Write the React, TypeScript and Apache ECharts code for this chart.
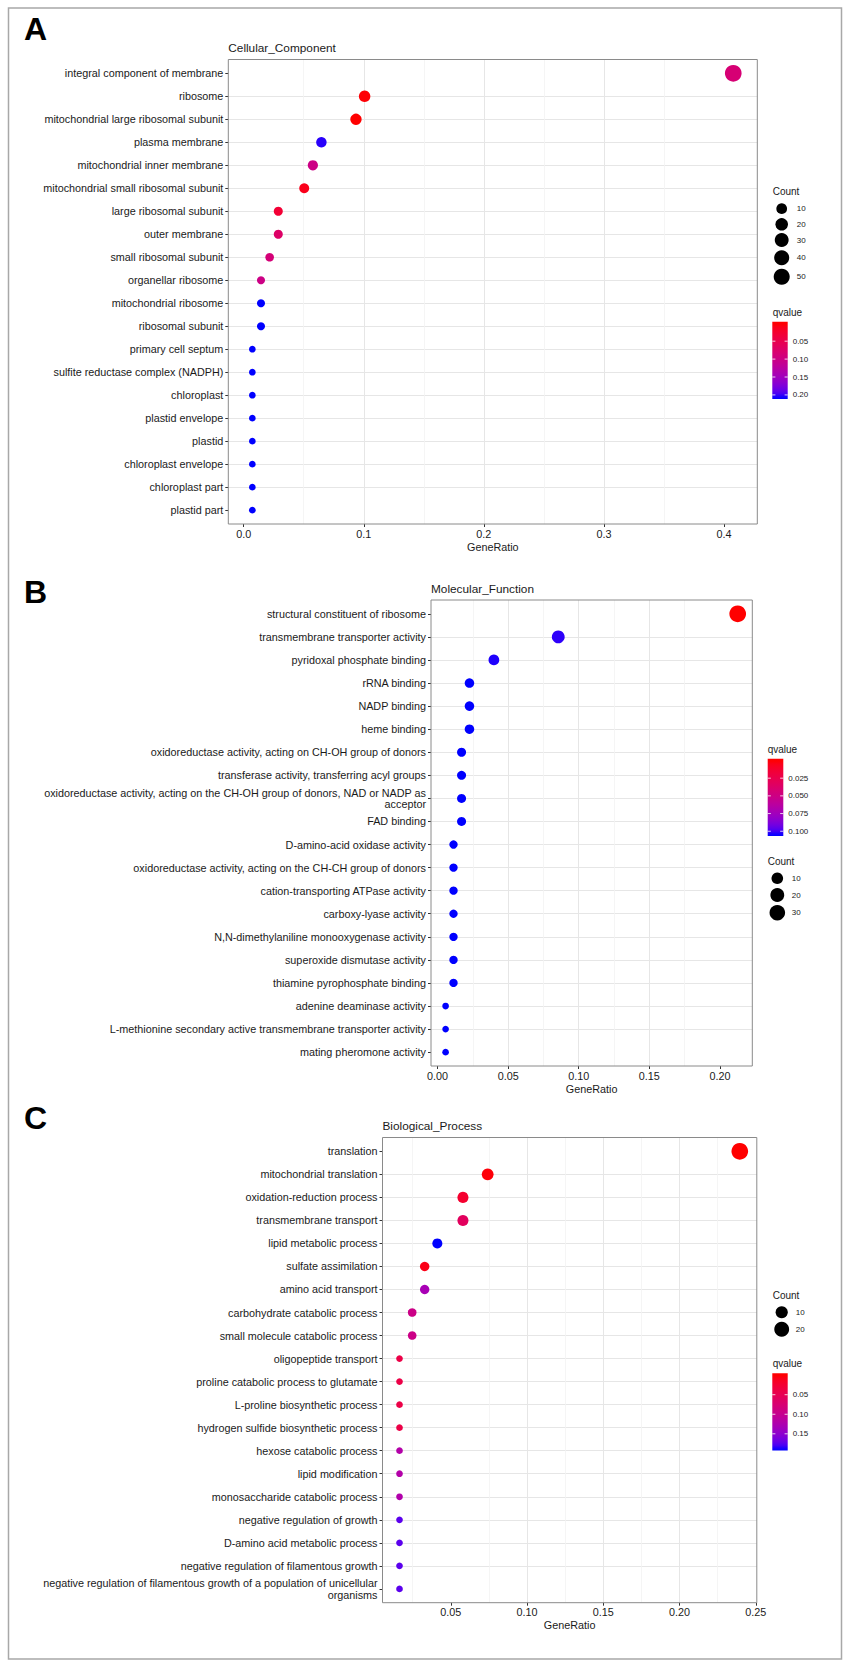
import React, { useEffect, useRef } from "react";
import * as echarts from "echarts";

// ---------------- data ----------------
const catA = [
  "integral component of membrane",
  "ribosome",
  "mitochondrial large ribosomal subunit",
  "plasma membrane",
  "mitochondrial inner membrane",
  "mitochondrial small ribosomal subunit",
  "large ribosomal subunit",
  "outer membrane",
  "small ribosomal subunit",
  "organellar ribosome",
  "mitochondrial ribosome",
  "ribosomal subunit",
  "primary cell septum",
  "sulfite reductase complex (NADPH)",
  "chloroplast",
  "plastid envelope",
  "plastid",
  "chloroplast envelope",
  "chloroplast part",
  "plastid part",
];
const ratioA = [0.4077, 0.1007, 0.0935, 0.0647, 0.0576, 0.0504, 0.0288, 0.0288, 0.0216, 0.0144, 0.0144, 0.0144, 0.0072, 0.0072, 0.0072, 0.0072, 0.0072, 0.0072, 0.0072, 0.0072];
const countA = [57, 14, 13, 9, 8, 7, 4, 4, 3, 2, 2, 2, 1, 1, 1, 1, 1, 1, 1, 1];
const qA = [0.085, 0.003, 0.001, 0.203, 0.1, 0.012, 0.03, 0.072, 0.088, 0.1, 0.206, 0.206, 0.206, 0.206, 0.206, 0.206, 0.206, 0.206, 0.206, 0.206];
const ticksA = [0, 0.1, 0.2, 0.3, 0.4];
const countBreaksA = [10, 20, 30, 40, 50];
const qBreaksA = [0.05, 0.1, 0.15, 0.2];

const catB = [
  "structural constituent of ribosome",
  "transmembrane transporter activity",
  "pyridoxal phosphate binding",
  "rRNA binding",
  "NADP binding",
  "heme binding",
  "oxidoreductase activity, acting on CH-OH group of donors",
  "transferase activity, transferring acyl groups",
  "oxidoreductase activity, acting on the CH-OH group of donors, NAD or NADP as\nacceptor",
  "FAD binding",
  "D-amino-acid oxidase activity",
  "oxidoreductase activity, acting on the CH-CH group of donors",
  "cation-transporting ATPase activity",
  "carboxy-lyase activity",
  "N,N-dimethylaniline monooxygenase activity",
  "superoxide dismutase activity",
  "thiamine pyrophosphate binding",
  "adenine deaminase activity",
  "L-methionine secondary active transmembrane transporter activity",
  "mating pheromone activity",
];
const ratioB = [0.2126, 0.0855, 0.0399, 0.0226, 0.0226, 0.0226, 0.017, 0.017, 0.017, 0.017, 0.0113, 0.0113, 0.0113, 0.0113, 0.0113, 0.0113, 0.0113, 0.0057, 0.0057, 0.0057];
const countB = [38, 15, 7, 4, 4, 4, 3, 3, 3, 3, 2, 2, 2, 2, 2, 2, 2, 1, 1, 1];
const qB = [0.0002, 0.102, 0.103, 0.104, 0.104, 0.104, 0.104, 0.104, 0.104, 0.104, 0.104, 0.104, 0.104, 0.104, 0.104, 0.104, 0.104, 0.104, 0.104, 0.104];
const ticksB = [0, 0.05, 0.1, 0.15, 0.2];
const countBreaksB = [10, 20, 30];
const qBreaksB = [0.025, 0.05, 0.075, 0.1];

const catC = [
  "translation",
  "mitochondrial translation",
  "oxidation-reduction process",
  "transmembrane transport",
  "lipid metabolic process",
  "sulfate assimilation",
  "amino acid transport",
  "carbohydrate catabolic process",
  "small molecule catabolic process",
  "oligopeptide transport",
  "proline catabolic process to glutamate",
  "L-proline biosynthetic process",
  "hydrogen sulfide biosynthetic process",
  "hexose catabolic process",
  "lipid modification",
  "monosaccharide catabolic process",
  "negative regulation of growth",
  "D-amino acid metabolic process",
  "negative regulation of filamentous growth",
  "negative regulation of filamentous growth of a population of unicellular\norganisms",
];
const ratioC = [0.2395, 0.0742, 0.058, 0.058, 0.0412, 0.0329, 0.0329, 0.0247, 0.0247, 0.0164, 0.0164, 0.0164, 0.0164, 0.0164, 0.0164, 0.0164, 0.0164, 0.0164, 0.0164, 0.0164];
const countC = [29, 9, 7, 7, 5, 4, 4, 3, 3, 2, 2, 2, 2, 2, 2, 2, 2, 2, 2, 2];
const qC = [0.0002, 0.003, 0.022, 0.058, 0.188, 0.008, 0.13, 0.092, 0.092, 0.04, 0.04, 0.04, 0.04, 0.12, 0.12, 0.122, 0.174, 0.174, 0.174, 0.174];
const ticksC = [0.05, 0.1, 0.15, 0.2, 0.25];
const countBreaksC = [10, 20];
const qBreaksC = [0.05, 0.1, 0.15];

// ---------------- colour (Lab interpolation red -> blue, like ggplot) ----------------
function toLin(c: number) {
  c /= 255;
  return c <= 0.04045 ? c / 12.92 : Math.pow((c + 0.055) / 1.055, 2.4);
}
function fromLin(c: number) {
  c = Math.max(0, Math.min(1, c));
  const v = c <= 0.0031308 ? 12.92 * c : 1.055 * Math.pow(c, 1 / 2.4) - 0.055;
  return Math.round(v * 255);
}
function rgbToLab(rgb: number[]) {
  const R = toLin(rgb[0]), G = toLin(rgb[1]), B = toLin(rgb[2]);
  const X = (0.4124 * R + 0.3576 * G + 0.1805 * B) / 0.95047;
  const Y = 0.2126 * R + 0.7152 * G + 0.0722 * B;
  const Z = (0.0193 * R + 0.1192 * G + 0.9505 * B) / 1.08883;
  const f = (t: number) => (t > 0.008856 ? Math.cbrt(t) : 7.787 * t + 16 / 116);
  const fx = f(X), fy = f(Y), fz = f(Z);
  return [116 * fy - 16, 500 * (fx - fy), 200 * (fy - fz)];
}
function labToRgb(lab: number[]) {
  const fy = (lab[0] + 16) / 116, fx = fy + lab[1] / 500, fz = fy - lab[2] / 200;
  const inv = (t: number) => (t * t * t > 0.008856 ? t * t * t : (t - 16 / 116) / 7.787);
  const X = inv(fx) * 0.95047, Y = inv(fy), Z = inv(fz) * 1.08883;
  const R = 3.2406 * X - 1.5372 * Y - 0.4986 * Z;
  const G = -0.9689 * X + 1.8758 * Y + 0.0415 * Z;
  const B = 0.0557 * X - 0.204 * Y + 1.057 * Z;
  return `rgb(${fromLin(R)},${fromLin(G)},${fromLin(B)})`;
}
const LOW = rgbToLab([255, 0, 0]);
const HIGH = rgbToLab([0, 0, 255]);
function ramp(t: number) {
  const u = Math.max(0, Math.min(1, t));
  return labToRgb(LOW.map((v, i) => v + (HIGH[i] - v) * u));
}

const D_MIN = 6.7;
const D_MAX = 16.7;
function makeSize(counts: number[]) {
  const lo = Math.min(...counts), hi = Math.max(...counts);
  return (c: number) => D_MIN + (D_MAX - D_MIN) * Math.sqrt(Math.max(0, c - lo) / (hi - lo));
}

const FONT = "Liberation Sans, Arial, Helvetica, sans-serif";
const TXT = "#1a1a1a";

const panels = [
  {
    letter: "A", title: "Cellular_Component",
    cats: catA, ratio: ratioA, count: countA, q: qA, ticks: ticksA, digits: 1, qDigits: 2,
    countBreaks: countBreaksA, qBreaks: qBreaksA,
    grid: { left: 228.3, top: 59.5, width: 529, height: 464.5 },
    letterY: 29.2, titleY: 48.2,
    leg: {
      countTitle: [772.7, 191.7], countYs: [208.7, 224.3, 240, 257.7, 276.7], cx: 781.7, clx: 796.7,
      qTitle: [772.7, 312.3], bar: [772.3, 321.7, 15.4, 77.3], qlx: 792.7,
    },
  },
  {
    letter: "B", title: "Molecular_Function",
    cats: catB, ratio: ratioB, count: countB, q: qB, ticks: ticksB, digits: 2, qDigits: 3,
    countBreaks: countBreaksB, qBreaks: qBreaksB,
    grid: { left: 431, top: 600, width: 321.3, height: 466 },
    letterY: 591.5, titleY: 589,
    leg: {
      countTitle: [767.7, 861], countYs: [878.3, 895, 912.7], cx: 777.3, clx: 791.7,
      qTitle: [767.7, 749], bar: [767.7, 758.7, 15.6, 77.3], qlx: 788.3,
    },
  },
  {
    letter: "C", title: "Biological_Process",
    cats: catC, ratio: ratioC, count: countC, q: qC, ticks: ticksC, digits: 2, qDigits: 2,
    countBreaks: countBreaksC, qBreaks: qBreaksC,
    grid: { left: 382.5, top: 1137.5, width: 374.3, height: 465.2 },
    letterY: 1117.7, titleY: 1125.7,
    leg: {
      countTitle: [772.7, 1295], countYs: [1312.3, 1329.3], cx: 781.7, clx: 795.7,
      qTitle: [772.7, 1363.3], bar: [772.3, 1373.3, 15.4, 77.3], qlx: 792.7,
    },
  },
];

function buildOption() {
  const grids: any[] = [];
  const xAxes: any[] = [];
  const yAxes: any[] = [];
  const series: any[] = [];
  const graphics: any[] = [];

  graphics.push({
    type: "rect", shape: { x: 8.5, y: 8, width: 833, height: 1651 },
    style: { fill: "none", stroke: "#a8a8a8", lineWidth: 1.5 }, silent: true, z: 1,
  });

  panels.forEach((p, i) => {
    const size = makeSize(p.count);
    const qlo = Math.min(...p.q), qhi = Math.max(...p.q);
    const colorOf = (q: number) => ramp((q - qlo) / (qhi - qlo));
    const rlo = Math.min(...p.ratio), rhi = Math.max(...p.ratio);
    const ext = 0.05 * (rhi - rlo);
    const idx = p.cats.map((_, j) => j);

    grids.push({ ...p.grid, show: false, containLabel: false, outerBoundsMode: "none" });
    xAxes.push({
      type: "value", gridIndex: i, position: "bottom",
      min: rlo - ext, max: rhi + ext,
      minInterval: p.ticks[1] - p.ticks[0], maxInterval: p.ticks[1] - p.ticks[0],
      axisLine: { show: false, onZero: false },
      axisTick: { show: true, customValues: p.ticks, length: 3, lineStyle: { color: "#333", width: 1 } },
      axisLabel: {
        customValues: p.ticks, margin: 4, fontSize: 10.8, fontFamily: FONT, color: TXT,
        formatter: (v: number) => v.toFixed(p.digits),
      },
      splitLine: { show: true, showMinLine: false, showMaxLine: false, lineStyle: { color: "#e6e6e6", width: 1 } },
      minorTick: { show: false, splitNumber: 2 },
      minorSplitLine: { show: true, lineStyle: { color: "#f3f3f3", width: 0.8 } },
      name: "GeneRatio", nameLocation: "middle", nameGap: 17,
      nameTextStyle: { fontSize: 10.8, fontFamily: FONT, color: TXT },
    });
    yAxes.push({
      type: "value", gridIndex: i, inverse: true, position: "left",
      min: -0.6, max: p.cats.length - 1 + 0.6,
      minInterval: 1, maxInterval: 1,
      axisLine: { show: false, onZero: false },
      axisTick: { show: true, customValues: idx, length: 3, lineStyle: { color: "#333", width: 1 } },
      axisLabel: {
        customValues: idx, margin: 5, fontSize: 10.8, fontFamily: FONT, color: TXT,
        lineHeight: 11.7, align: "right",
        formatter: (v: number) => p.cats[Math.round(v)] ?? "",
      },
      splitLine: { show: true, showMinLine: false, showMaxLine: false, lineStyle: { color: "#e6e6e6", width: 1 } },
    });
    series.push({
      type: "scatter", xAxisIndex: i, yAxisIndex: i,
      data: p.ratio.map((r, j) => [r, j, p.count[j], p.q[j]]),
      symbol: "circle",
      symbolSize: (v: number[]) => size(v[2]),
      itemStyle: { opacity: 1, color: (prm: any) => colorOf(prm.value[3]) },
      emphasis: { disabled: true }, silent: true, z: 3,
    });

    // panel border
    graphics.push({
      type: "rect", shape: { x: p.grid.left, y: p.grid.top, width: p.grid.width, height: p.grid.height },
      style: { fill: "none", stroke: "#8a8a8a", lineWidth: 1 }, silent: true, z: 10,
    });
    // letter
    graphics.push({
      type: "text", x: 24, y: p.letterY, silent: true, z: 10,
      style: { text: p.letter, fontSize: 32, fontWeight: "bold", fontFamily: FONT, fill: "#000", align: "left", verticalAlign: "middle" },
    });
    // title
    graphics.push({
      type: "text", x: p.grid.left, y: p.titleY, silent: true, z: 10,
      style: { text: p.title, fontSize: 11.8, fontFamily: FONT, fill: TXT, align: "left", verticalAlign: "middle" },
    });

    const L = p.leg;
    // Count legend
    graphics.push({
      type: "text", x: L.countTitle[0], y: L.countTitle[1], silent: true, z: 10,
      style: { text: "Count", fontSize: 10, fontFamily: FONT, fill: TXT, align: "left", verticalAlign: "middle" },
    });
    p.countBreaks.forEach((c, k) => {
      const y = L.countYs[k];
      graphics.push({ type: "circle", shape: { cx: L.cx, cy: y, r: size(c) / 2 }, style: { fill: "#000" }, silent: true, z: 10 });
      graphics.push({
        type: "text", x: L.clx, y, silent: true, z: 10,
        style: { text: String(c), fontSize: 8, fontFamily: FONT, fill: TXT, align: "left", verticalAlign: "middle" },
      });
    });
    // qvalue legend
    graphics.push({
      type: "text", x: L.qTitle[0], y: L.qTitle[1], silent: true, z: 10,
      style: { text: "qvalue", fontSize: 10, fontFamily: FONT, fill: TXT, align: "left", verticalAlign: "middle" },
    });
    const [bx, by, bw, bh] = L.bar;
    const half = bh / 40;
    const stops: any[] = [];
    for (let s = 0; s <= 30; s++) {
      const o = s / 30;
      const t = (o * bh - half) / (bh - 2 * half);
      stops.push({ offset: o, color: ramp(t) });
    }
    graphics.push({
      type: "rect", shape: { x: bx, y: by, width: bw, height: bh }, silent: true, z: 10,
      style: { fill: { type: "linear", x: 0, y: 0, x2: 0, y2: 1, colorStops: stops }, stroke: "none" },
    });
    p.qBreaks.forEach((qb) => {
      const y = by + half + ((qb - qlo) / (qhi - qlo)) * (bh - 2 * half);
      graphics.push({ type: "line", shape: { x1: bx, y1: y, x2: bx + bw / 5, y2: y }, style: { stroke: "#fff", lineWidth: 0.8 }, silent: true, z: 11 });
      graphics.push({ type: "line", shape: { x1: bx + (bw * 4) / 5, y1: y, x2: bx + bw, y2: y }, style: { stroke: "#fff", lineWidth: 0.8 }, silent: true, z: 11 });
      graphics.push({
        type: "text", x: L.qlx, y, silent: true, z: 10,
        style: { text: qb.toFixed(p.qDigits), fontSize: 8, fontFamily: FONT, fill: TXT, align: "left", verticalAlign: "middle" },
      });
    });
  });

  return {
    animation: false,
    backgroundColor: "#ffffff",
    textStyle: { fontFamily: FONT },
    grid: grids,
    xAxis: xAxes,
    yAxis: yAxes,
    series,
    graphic: { elements: graphics },
  };
}

export default function App() {
  const ref = useRef<HTMLDivElement>(null);
  useEffect(() => {
    if (!ref.current) return;
    const chart = echarts.init(ref.current, undefined, { renderer: "svg" });
    chart.setOption(buildOption() as any);
    return () => chart.dispose();
  }, []);
  return (
    <div
      ref={ref}
      style={{ position: "absolute", left: 0, top: 0, width: 851, height: 1668, background: "#fff" }}
    />
  );
}
